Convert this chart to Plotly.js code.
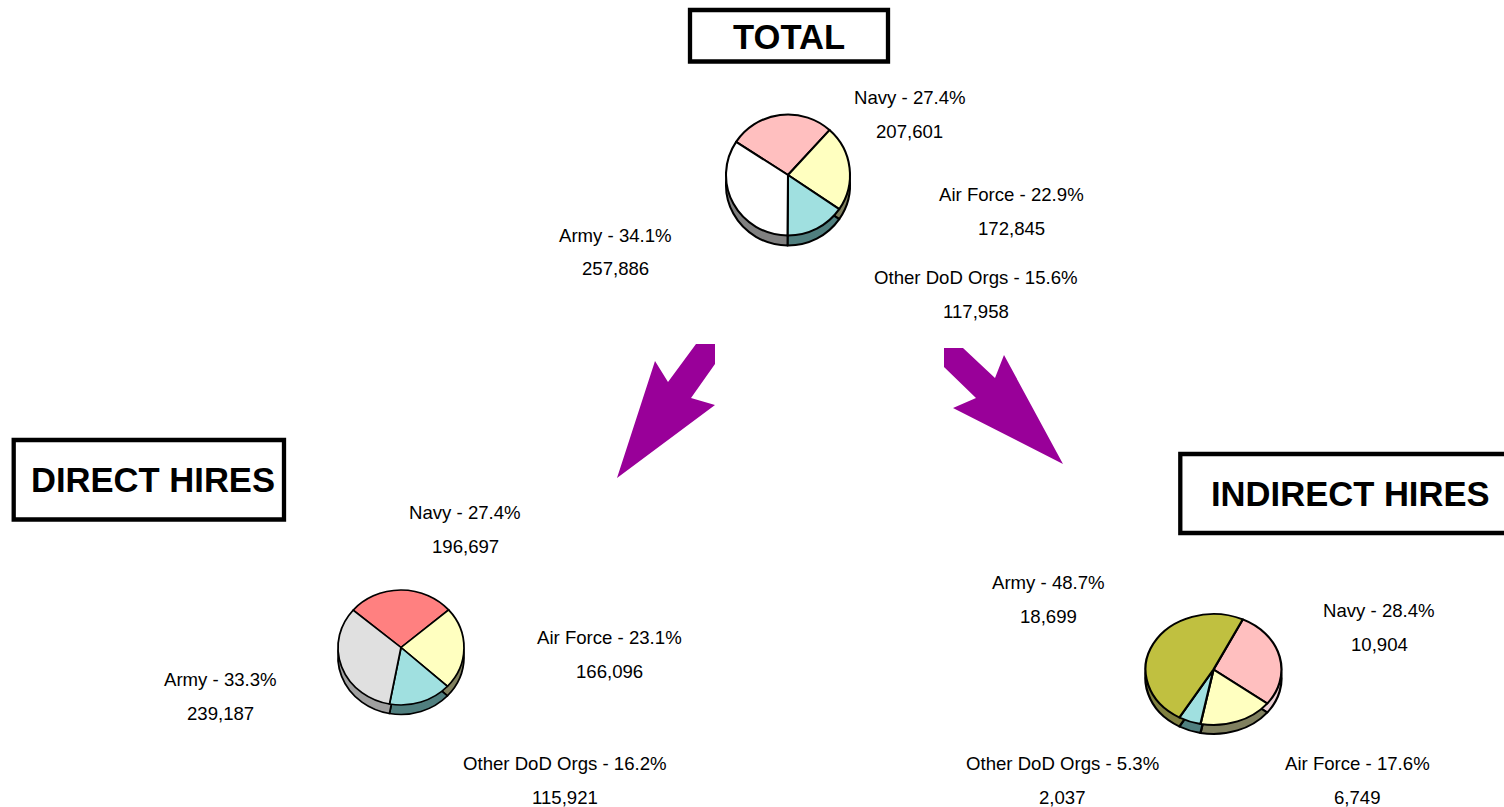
<!DOCTYPE html>
<html>
<head>
<meta charset="utf-8">
<script src="https://cdn.plot.ly/plotly-3.0.1.min.js"></script>
<style>html,body{margin:0;padding:0;background:#fff;overflow:hidden}#chart{width:1504px;height:807px}</style>
</head>
<body>
<div id="chart"></div>
<script>
// ---- data ----
const categories = ["Navy", "Air Force", "Other DoD Orgs", "Army"];
const totalValues = [207601, 172845, 117958, 257886];
const directValues = [196697, 166096, 115921, 239187];
const indirectValues = [10904, 6749, 2037, 18699];
const totalPct = ["27.4", "22.9", "15.6", "34.1"];
const directPct = ["27.4", "23.1", "16.2", "33.3"];
const indirectPct = ["28.4", "17.6", "5.3", "48.7"];

// ---- styling and layout ----
const W = 1504, H = 807, R = 60;
const px = x => x / W, py = y => 1 - y / H;
const pink = "#ffbfbf", yellow = "#ffffc0", cyan = "#a0e0e0";
const pies = [
  { values: totalValues, pct: totalPct, cx: 788, cy: 175, rx: 62, ry: 60.5, depth: 10, rotation: -56.8, lw: 2,
    colors: [pink, yellow, cyan, "#ffffff"], sides: ["#806060", "#80805f", "#507f7f", "#808080"],
    labels: [[910, 97.5], [1011, 194.5], [976, 277.5], [615, 235.5]] },
  { values: directValues, pct: directPct, cx: 401, cy: 647.5, rx: 63, ry: 57.5, depth: 9.5, rotation: -49.5, lw: 1.7,
    colors: ["#ff8080", yellow, cyan, "#e0e0e0"], sides: ["#804040", "#80805f", "#507f7f", "#a0a0a0"],
    labels: [[465, 512.5], [609, 637.5], [565, 763.5], [220, 679.5]] },
  { values: indirectValues, pct: indirectPct, cx: 1213.5, cy: 669.5, rx: 68, ry: 55.5, depth: 9, rotation: 25.5, lw: 2,
    colors: [pink, yellow, cyan, "#c0c040"], sides: ["#ecd0d4", "#80805f", "#507f7f", "#808040"],
    labels: [[1379, 610.5], [1357, 763.5], [1062, 763.5], [1048, 582.5]] }
];
const titles = [
  { text: "TOTAL", box: [690, 10, 888, 61.5], cx: 789, cy: 36.5 },
  { text: "DIRECT HIRES", box: [13.7, 440, 284, 519.5], cx: 153, cy: 479.5 },
  { text: "INDIRECT HIRES", box: [1180.3, 454, 1510, 533], cx: 1350, cy: 494.5 }
];
const arrowPaths = [
  [[696, 344], [715, 344], [715, 364], [691, 398], [715, 405], [617, 478], [655, 361], [668, 382]],
  [[944, 348], [963, 348], [995, 378], [1004, 355], [1063, 464], [953, 408], [976, 398], [944, 367]]
];

const traces = [], annotations = [], shapes = [];
function pieTrace(p, colors, shift) {
  return {
    type: "pie", values: p.values, labels: categories, sort: false, direction: "clockwise",
    rotation: p.rotation, textinfo: "none", hoverinfo: "label+value+percent",
    marker: { colors: colors, line: { color: "#000", width: p.lw } },
    domain: { x: [px(p.cx - R), px(p.cx + R)], y: [py(p.cy + shift + R), py(p.cy + shift - R)] }
  };
}
pies.forEach(p => {
  traces.push(pieTrace(p, p.sides, p.depth));
  traces.push(pieTrace(p, p.colors, 0));
  categories.forEach((c, i) => {
    const [x, y] = p.labels[i];
    const common = { xref: "paper", yref: "paper", x: px(x), xanchor: "center", yanchor: "middle", showarrow: false,
      font: { family: "Liberation Sans, Arial, sans-serif", size: 18.6, color: "#000" } };
    annotations.push(Object.assign({}, common, { y: py(y), text: c + " - " + p.pct[i] + "%" }));
    annotations.push(Object.assign({}, common, { y: py(y + 33.5), text: p.values[i].toLocaleString("en-US") }));
  });
});
titles.forEach(t => {
  const [x0, y0, x1, y1] = t.box;
  shapes.push({ type: "rect", xref: "paper", yref: "paper", x0: px(x0), x1: px(x1), y0: py(y0), y1: py(y1),
    line: { color: "#000", width: 4.3 }, fillcolor: "#fff" });
  annotations.push({ xref: "paper", yref: "paper", x: px(t.cx), y: py(t.cy), xanchor: "center", yanchor: "middle",
    showarrow: false, text: "<b>" + t.text + "</b>",
    font: { family: "Liberation Sans, Arial, sans-serif", size: 34.6, color: "#000" } });
});
arrowPaths.forEach(a => {
  const d = a.map((q, i) => (i ? "L" : "M") + px(q[0]) + "," + py(q[1])).join(" ") + " Z";
  shapes.push({ type: "path", xref: "paper", yref: "paper", path: d, fillcolor: "#990099", line: { width: 0 } });
});

const layout = {
  width: W, height: H, margin: { l: 0, r: 0, t: 0, b: 0, pad: 0 }, showlegend: false,
  paper_bgcolor: "#fff", plot_bgcolor: "#fff", shapes: shapes, annotations: annotations
};

Plotly.newPlot("chart", traces, layout, { displayModeBar: false, staticPlot: true }).then(() => {
  // The reference pies are slightly elliptical: stretch each trace about its own centre.
  const groups = document.querySelectorAll(".pielayer .trace");
  pies.forEach((p, i) => {
    [[0, p.depth], [1, 0]].forEach(([k, shift]) => {
      const g = groups[i * 2 + k];
      if (!g) return;
      const cy = p.cy + shift;
      g.setAttribute("transform", `translate(${p.cx},${cy}) scale(${p.rx / R},${p.ry / R}) translate(${-p.cx},${-cy})`);
    });
  });
});
</script>
</body>
</html>
